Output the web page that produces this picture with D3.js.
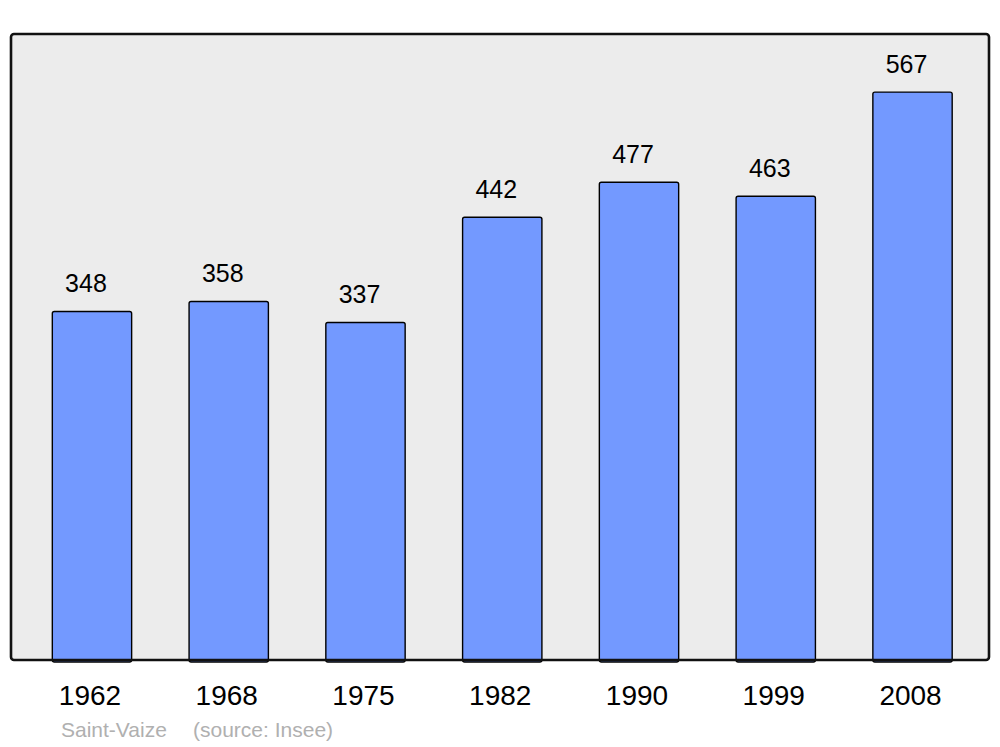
<!DOCTYPE html>
<html>
<head>
<meta charset="utf-8">
<script src="https://cdn.jsdelivr.net/npm/d3@7"></script>
<style>
  body { margin: 0; background: #fff; }
  text { font-family: "Liberation Sans", Arial, sans-serif; }
</style>
</head>
<body>
<div id="viz_container"></div>
<script>
// data
const years = ["1962", "1968", "1975", "1982", "1990", "1999", "2008"];
const population = [348, 358, 337, 442, 477, 463, 567];
const townName = "Saint-Vaize";
const sourceText = "(source: Insee)";

const W = 1000, H = 747;
const frame = {x0: 11, x1: 989, y0: 34, y1: 660};

const svg = d3.select("#viz_container")
  .append("svg")
    .attr("width", W)
    .attr("height", H);

// background frame
svg.append("rect")
    .attr("x", frame.x0)
    .attr("y", frame.y0)
    .attr("width", frame.x1 - frame.x0)
    .attr("height", frame.y1 - frame.y0)
    .attr("rx", 3)
    .style("fill", "#ececec")
    .style("stroke", "none");

// scales
const xScale = d3.scaleBand()
  .domain(years)
  .range([23.6, 980.9])
  .paddingInner(0.42)
  .paddingOuter(0.21);

const yScale = d3.scaleLinear()
  .domain([0, 625])
  .range([frame.y1, frame.y0]);

const data = years.map((y, i) => ({year: y, value: population[i]}));

// bars
svg.selectAll(".bar")
  .data(data)
  .join("rect")
    .attr("class", "bar")
    .attr("x", d => xScale(d.year))
    .attr("y", d => yScale(d.value))
    .attr("width", xScale.bandwidth())
    .attr("height", d => yScale(0) - yScale(d.value) + 2)
    .attr("rx", 2)
    .style("fill", "#7399ff")
    .style("stroke", "#000")
    .style("stroke-width", 1.4);

// value labels (sit a little left of bar centre, like the original)
svg.selectAll(".val")
  .data(data)
  .join("text")
    .attr("class", "val")
    .attr("x", d => xScale(d.year) + xScale.bandwidth() / 2 - 6)
    .attr("y", d => yScale(d.value) - 19)
    .attr("text-anchor", "middle")
    .style("font-size", "25px")
    .style("fill", "#000")
    .text(d => d.value);

// frame border drawn over bars
svg.append("rect")
    .attr("x", frame.x0)
    .attr("y", frame.y0)
    .attr("width", frame.x1 - frame.x0)
    .attr("height", frame.y1 - frame.y0)
    .attr("rx", 3)
    .style("fill", "none")
    .style("stroke", "#111")
    .style("stroke-width", 2.6);

// x axis labels
const xAxis = svg.append("g")
  .attr("transform", `translate(-2, ${frame.y1})`)
  .call(d3.axisBottom(xScale).tickSize(0).tickPadding(25))
  .call(g => g.select(".domain").remove());
xAxis.selectAll("text")
  .style("font-size", "28px")
  .style("font-family", "'Liberation Sans', Arial, sans-serif")
  .style("fill", "#000");

// source
svg.append("text")
    .attr("x", 61)
    .attr("y", 737)
    .style("font-size", "21px")
    .style("fill", "#b0b0b0")
    .text(townName);
svg.append("text")
    .attr("x", 193)
    .attr("y", 737)
    .style("font-size", "21px")
    .style("fill", "#b0b0b0")
    .text(sourceText);
</script>
</body>
</html>
